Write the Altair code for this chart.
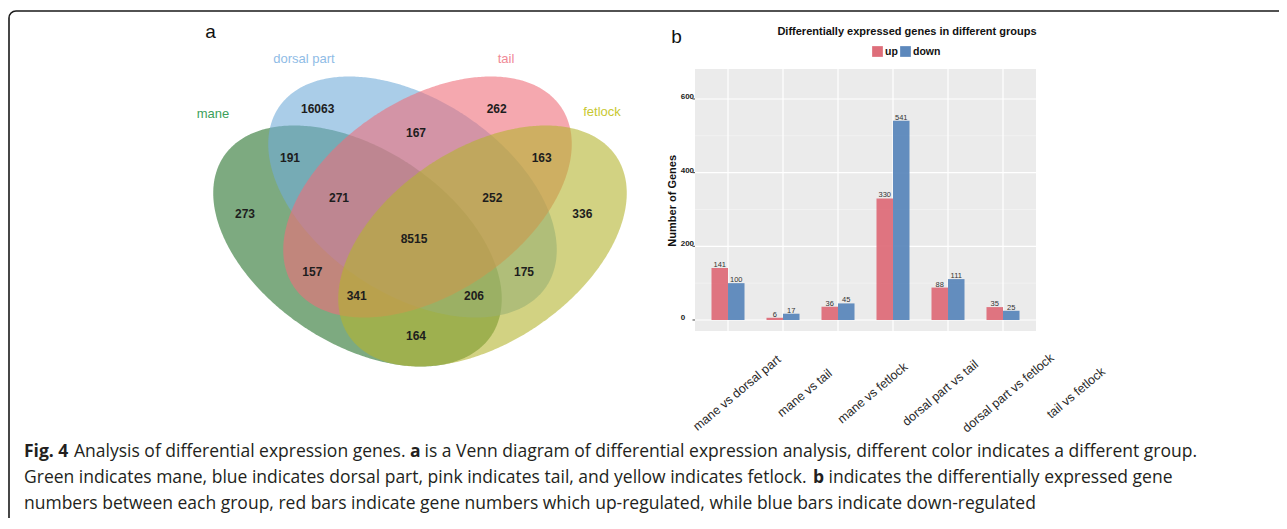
import altair as alt
import numpy as np
import pandas as pd

W, H = 1271, 510          # chart size (page margin is 8px)
M = 8                     # reference pixel -> chart pixel shift
FONT = "Liberation Sans"
CAP_FONT = "Open Sans"
CAP_SIZE = 17.5

# ---------------- (a) Venn diagram ----------------
venn_sets = ["mane", "dorsal part", "tail", "fetlock"]
venn_fill = ["#26712B", "#71ACD9", "#EE6E7A", "#B4B42F"]
venn_text_color = ["#3C9F5A", "#8FBCE6", "#F08A96", "#C8C832"]
venn_label_x = [213, 304, 506, 602]
venn_label_y = [114, 59, 59, 112]

region_counts = [273, 16063, 262, 336, 191, 167, 163, 271, 8515, 252, 157, 175, 341, 206, 164]
region_x = [245, 317.7, 496.7, 582.3, 290, 416, 541.7, 339, 414, 492.3, 312.3, 524, 356.7, 474, 416]
region_y = [214.3, 109.3, 109.3, 214.3, 157.7, 133.3, 157.7, 198.3, 239, 198.3, 271.7, 271.7, 296, 296, 336]

# ellipse geometry (reference pixels)
venn_cx = [357.5, 412.5, 427.5, 482.5]
venn_cy = [246, 197, 197, 246]
venn_tilt = [33.8, 33.8, -33.8, -33.8]
venn_a, venn_b = 161, 97
venn_alpha = 0.6

# ---------------- (b) bar chart ----------------
pairs = ["mane vs dorsal part", "mane vs tail", "mane vs fetlock",
         "dorsal part vs tail", "dorsal part vs fetlock", "tail vs fetlock"]
up_counts = [141, 6, 36, 330, 88, 35]
down_counts = [100, 17, 45, 541, 111, 25]
directions = ["up", "down"]
dir_colors = ["#DE6E7A", "#5C88BC"]
y_major = [0, 200, 400, 600]
y_minor = [100, 300, 500]
bar_title = "Differentially expressed genes in different groups"
y_title = "Number of Genes"

# panel box (reference pixels): left, right, top, bottom ; value domain
panel = [695, 1036, 69, 331]
y_domain = [-29.9, 681.4]
xlabel_span = [737, 1076]
xlabel_y = 393

# ---------------- caption ----------------
cap_bold = ["Fig. 4", "a", "b"]
cap_bold_x = [24, 410, 813]
cap_bold_y = [452, 452, 478]
cap_norm = ["Analysis of differential expression genes.",
            "is a Venn diagram of differential expression analysis, different color indicates a different group.",
            "Green indicates mane, blue indicates dorsal part, pink indicates tail, and yellow indicates fetlock.",
            "indicates the differentially expressed gene",
            "numbers between each group, red bars indicate gene numbers which up-regulated, while blue bars indicate down-regulated"]
cap_norm_x = [74, 424.5, 24, 828.5, 24]
cap_norm_y = [452, 452, 478, 478, 504]


def ellipse_band(cx, cy, a, b, tilt, n=240):
    t = np.radians(tilt)
    c, s = np.cos(t), np.sin(t)
    P = s * s / a ** 2 + c * c / b ** 2
    Q = 2 * c * s * (1 / a ** 2 - 1 / b ** 2)
    R = c * c / a ** 2 + s * s / b ** 2
    xmax = np.sqrt(4 * P / (4 * P * R - Q * Q))
    x = -xmax * np.cos(np.linspace(0, np.pi, n))
    disc = np.clip(Q * Q * x * x - 4 * P * (R * x * x - 1), 0, None)
    y1 = (-Q * x - np.sqrt(disc)) / (2 * P)
    y2 = (-Q * x + np.sqrt(disc)) / (2 * P)
    return pd.DataFrame({"x": cx + x - M, "y": cy + y1 - M, "y2": cy + y2 - M})


one = pd.DataFrame({"k": [0]})
layers = []

# border
layers.append(alt.Chart(one).mark_rect(fill="transparent", stroke="#1a1a1a", strokeWidth=1.6,
                                        cornerRadius=7).encode(
    x=alt.value(1), x2=alt.value(W + 40), y=alt.value(3), y2=alt.value(H + 40)))

# ellipses
for i in range(4):
    df = ellipse_band(venn_cx[i], venn_cy[i], venn_a, venn_b, venn_tilt[i])
    layers.append(alt.Chart(df).mark_area(color=venn_fill[i], opacity=venn_alpha).encode(
        x=alt.X("x:Q", scale=None, axis=None),
        y=alt.Y("y:Q", scale=None, axis=None),
        y2="y2:Q"))

reg_df = pd.DataFrame({"n": region_counts, "x": [v - M for v in region_x],
                       "y": [v - M for v in region_y]})
layers.append(alt.Chart(reg_df).mark_text(font=FONT, fontSize=12, fontWeight="bold",
                                          color="#1d1d1d").encode(
    x=alt.X("x:Q", scale=None, axis=None), y=alt.Y("y:Q", scale=None, axis=None), text="n:N"))

set_df = pd.DataFrame({"s": venn_sets, "c": venn_text_color,
                       "x": [v - M for v in venn_label_x], "y": [v - M for v in venn_label_y]})
layers.append(alt.Chart(set_df).mark_text(font=FONT, fontSize=13).encode(
    x=alt.X("x:Q", scale=None, axis=None), y=alt.Y("y:Q", scale=None, axis=None),
    text="s:N", color=alt.Color("c:N", scale=None)))

# panel letters
let_df = pd.DataFrame({"t": ["a", "b"], "x": [210.5 - M, 676.5 - M], "y": [32 - M, 37 - M]})
layers.append(alt.Chart(let_df).mark_text(font=FONT, fontSize=19, color="#111").encode(
    x=alt.X("x:Q", scale=None, axis=None), y=alt.Y("y:Q", scale=None, axis=None), text="t:N"))

# ---------------- bar group ----------------
pl, pr, pt, pb = [v - M for v in panel]
bar_df = pd.DataFrame({
    "pair": pairs * 2,
    "dir": ["up"] * len(pairs) + ["down"] * len(pairs),
    "n": up_counts + down_counts,
})
xs = alt.X("pair:N", sort=pairs, axis=None,
           scale=alt.Scale(range=[pl, pr], paddingInner=0.4, paddingOuter=0.3))
ysc = alt.Scale(domain=y_domain, range=[pb, pt], nice=False, zero=False)

panel_bg = alt.Chart(one).mark_rect(color="#EBEBEB").encode(
    x=alt.value(pl), x2=alt.value(pr), y=alt.value(pt), y2=alt.value(pb))
minor = alt.Chart(pd.DataFrame({"v": y_minor})).mark_rule(color="#F7F7F7", strokeWidth=0.6).encode(
    y=alt.Y("v:Q", scale=ysc, axis=None), x=alt.value(pl), x2=alt.value(pr))
major = alt.Chart(pd.DataFrame({"v": y_major})).mark_rule(color="white", strokeWidth=1.2).encode(
    y=alt.Y("v:Q", scale=ysc, axis=None), x=alt.value(pl), x2=alt.value(pr))
vgrid = alt.Chart(pd.DataFrame({"pair": pairs})).mark_rule(color="white", strokeWidth=1.2).encode(
    x=alt.X("pair:N", sort=pairs, axis=None, bandPosition=0.5,
            scale=alt.Scale(range=[pl, pr], paddingInner=0.4, paddingOuter=0.3)),
    y=alt.value(pt), y2=alt.value(pb))
bars = alt.Chart(bar_df).mark_bar(opacity=0.95).encode(
    x=xs,
    xOffset=alt.XOffset("dir:N", sort=directions, scale=alt.Scale(paddingInner=0, paddingOuter=0)),
    y=alt.Y("n:Q", scale=ysc, axis=None, stack=None),
    y2=alt.datum(0),
    color=alt.Color("dir:N", sort=directions,
                    scale=alt.Scale(domain=directions, range=dir_colors),
                    legend=alt.Legend(orient="none", legendX=873 - M - 1, legendY=46 - M,
                                      direction="horizontal", title=None, symbolType="square",
                                      symbolSize=115, symbolStrokeWidth=0, symbolOpacity=1,
                                      labelFont=FONT, labelFontSize=10.5, labelFontWeight="bold",
                                      labelColor="#111", labelOffset=2, columnPadding=2,
                                      padding=0)))
vals = alt.Chart(bar_df).mark_text(font=FONT, fontSize=7.5, color="#333", baseline="bottom", dy=1).encode(
    x=xs,
    xOffset=alt.XOffset("dir:N", sort=directions, scale=alt.Scale(paddingInner=0, paddingOuter=0)),
    y=alt.Y("n:Q", scale=ysc, axis=None, stack=None),
    text="n:Q")
ytl = alt.Chart(pd.DataFrame({"v": y_major})).mark_text(
    font=FONT, fontSize=8, fontWeight="bold", color="#222", align="left", baseline="middle", dy=-2).encode(
    y=alt.Y("v:Q", scale=ysc, axis=None), x=alt.value(680.7 - M), text="v:N")
yticks = alt.Chart(pd.DataFrame({"v": y_major})).mark_rule(color="#444", strokeWidth=1).encode(
    y=alt.Y("v:Q", scale=ysc, axis=None), x=alt.value(pl - 2.5), x2=alt.value(pl))
bar_group = alt.layer(panel_bg, minor, major, vgrid, bars, vals, ytl, yticks)

layers.append(bar_group)

# y axis title and chart title
layers.append(alt.Chart(one).mark_text(font=FONT, fontSize=11, fontWeight="bold", angle=270,
                                       color="#111", text=y_title).encode(
    x=alt.value(673.3 - M), y=alt.value(200.8 - M)))
layers.append(alt.Chart(one).mark_text(font=FONT, fontSize=11, fontWeight="bold",
                                       color="#111", text=bar_title).encode(
    x=alt.value(907 - M), y=alt.value(31.7 - M)))

# rotated x labels
layers.append(alt.Chart(pd.DataFrame({"pair": pairs})).mark_text(
    font=FONT, fontSize=12.5, color="#2a2a2a", angle=320, align="center", baseline="middle").encode(
    x=alt.X("pair:N", sort=pairs, axis=None,
            scale=alt.Scale(type="point", range=[xlabel_span[0] - M, xlabel_span[1] - M], padding=0)),
    y=alt.value(xlabel_y - M), text="pair:N"))

# caption
cb = pd.DataFrame({"t": cap_bold, "x": [v - M for v in cap_bold_x], "y": [v - M for v in cap_bold_y]})
cn = pd.DataFrame({"t": cap_norm, "x": [v - M for v in cap_norm_x], "y": [v - M for v in cap_norm_y]})
layers.append(alt.Chart(cb).mark_text(font=CAP_FONT, fontSize=CAP_SIZE, fontWeight="bold", color="#231F20",
                                      align="left", baseline="middle").encode(
    x=alt.X("x:Q", scale=None, axis=None), y=alt.Y("y:Q", scale=None, axis=None), text="t:N"))
layers.append(alt.Chart(cn).mark_text(font=CAP_FONT, fontSize=CAP_SIZE, color="#231F20",
                                      align="left", baseline="middle").encode(
    x=alt.X("x:Q", scale=None, axis=None), y=alt.Y("y:Q", scale=None, axis=None), text="t:N"))

chart = alt.layer(*layers).resolve_scale(
    x="independent", y="independent", color="independent"
).properties(
    width=W, height=H, padding=0, autosize=alt.AutoSizeParams(type="none")
).configure_view(stroke=None)

chart.save("out.html", embed_options={"renderer": "svg", "actions": False})
